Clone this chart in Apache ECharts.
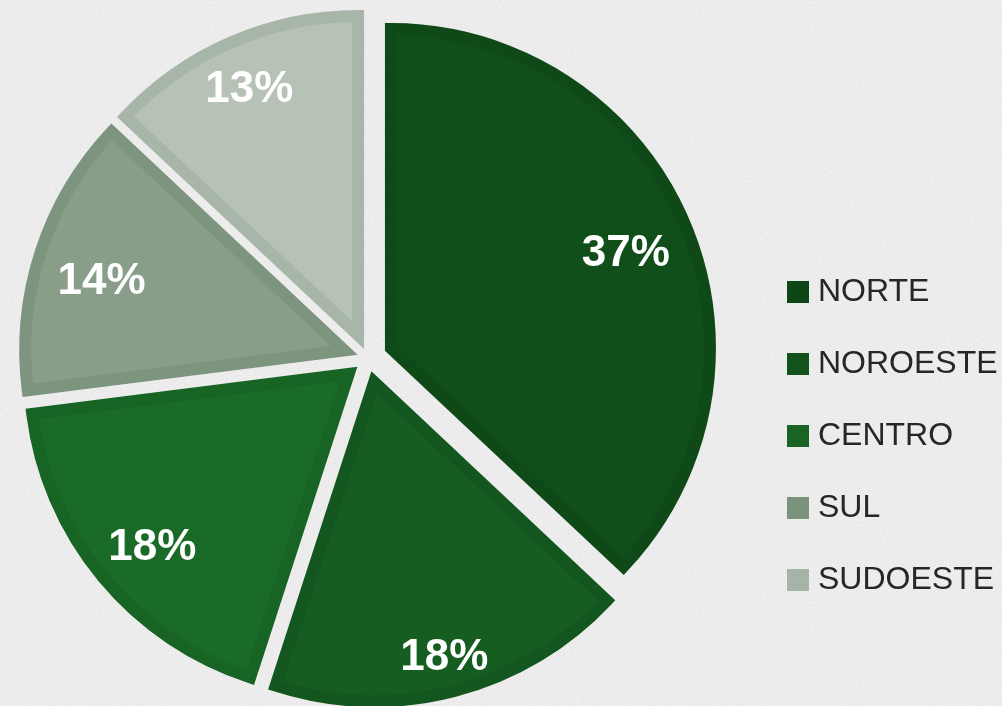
<!DOCTYPE html>
<html>
<head>
<meta charset="utf-8">
<script src="https://cdn.jsdelivr.net/npm/echarts@6/dist/echarts.min.js"></script>
<style>
html,body{margin:0;padding:0;width:1002px;height:706px;overflow:hidden;}
body{background-color:#e6e6e6;
background-image:url("data:image/svg+xml;utf8,<svg xmlns='http://www.w3.org/2000/svg' width='300' height='300'><filter id='n'><feTurbulence type='fractalNoise' baseFrequency='0.85' numOctaves='3' stitchTiles='stitch'/><feColorMatrix type='matrix' values='0 0 0 0 1  0 0 0 0 1  0 0 0 0 1  0 0 0 -1.4 1.1'/></filter><rect width='300' height='300' filter='url(%23n)' opacity='0.6'/></svg>");}
#chart{width:1002px;height:706px;}
</style>
</head>
<body>
<div id="chart"></div>
<script>
// Data
const categories = ['NORTE', 'NOROESTE', 'CENTRO', 'SUL', 'SUDOESTE'];
const values = [37, 18, 18, 14, 13];
const labels = ['37%', '18%', '18%', '14%', '13%'];

// Styles
const fillColors = ['#114f1a', '#165d21', '#1a6b27', '#889e89', '#b7c2b7'];
const borderColors = ['#0f4918', '#14561f', '#186424', '#7d947e', '#a8b5a9'];
const legendColors = ['#0f4615', '#13521c', '#196423', '#7b937d', '#a6b3a7'];
// small label nudges (px) to mimic the original label placement
const labelNudgeX = [-5, 5, 5, 6, -5];
const labelNudgeY = [10, 22, 7, 12, -5];

const chart = echarts.init(document.getElementById('chart'), null, {renderer: 'canvas'});

const R = 319;
const OFFSET = 25;

const pieData = categories.map((c, i) => ({
  name: c,
  value: values[i],
  selected: true,
  itemStyle: {color: fillColors[i], borderColor: borderColors[i]}
}));

const labelData = categories.map((c, i) => ({
  name: c,
  value: values[i],
  selected: true,
  label: {formatter: labels[i]}
}));

chart.setOption({
  animation: false,
  backgroundColor: 'transparent',
  legend: {
    orient: 'vertical',
    left: 787,
    top: 276,
    padding: 0,
    itemWidth: 22,
    itemHeight: 22,
    itemGap: 40,
    icon: 'rect',
    selectedMode: false,
    textStyle: {fontFamily: 'Liberation Sans', fontSize: 32, color: '#262626', padding: [0, 0, 0, 4]},
    data: categories.map((c, i) => ({name: c, itemStyle: {color: legendColors[i], borderWidth: 0}}))
  },
  series: [
    {
      type: 'pie',
      center: [368, 358],
      radius: [0, R],
      startAngle: 90,
      clockwise: true,
      selectedMode: 'multiple',
      selectedOffset: OFFSET,
      silent: true,
      itemStyle: {borderWidth: 12, borderJoin: 'miter'},
      select: {itemStyle: {borderWidth: 12}},
      label: {show: false},
      labelLine: {show: false},
      data: pieData
    },
    {
      type: 'pie',
      center: [368, 358],
      radius: [R * 0.62, R],
      startAngle: 90,
      clockwise: true,
      selectedMode: 'multiple',
      selectedOffset: OFFSET,
      silent: true,
      itemStyle: {color: 'rgba(0,0,0,0)', borderWidth: 0},
      label: {
        show: true,
        position: 'inside',
        color: '#ffffff',
        fontFamily: 'Liberation Sans',
        fontWeight: 'bold',
        fontSize: 44
      },
      labelLayout: function (p) {
        return {dx: labelNudgeX[p.dataIndex], dy: labelNudgeY[p.dataIndex]};
      },
      labelLine: {show: false},
      data: labelData
    }
  ]
});
</script>
</body>
</html>
